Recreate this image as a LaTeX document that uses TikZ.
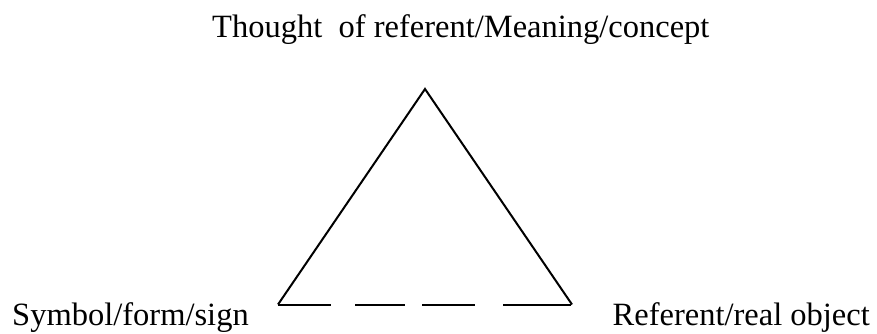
\documentclass[tikz,border=0pt]{standalone}
\usepackage{fontspec}
\setmainfont{Liberation Serif}
\begin{document}
\begin{tikzpicture}[x=1pt,y=-1pt,
  lbl/.style={inner sep=0pt,font=\fontsize{32.5}{36}\selectfont},
  side/.style={line width=2pt,line join=miter},
  base/.style={line width=2pt,dash pattern=on 53pt off 24pt on 50pt off 17pt on 53pt off 28pt on 68pt off 10pt}]
\useasboundingbox (0,0) rectangle (877,334);
\coordinate (A) at (425,89);
\coordinate (L) at (278,304.5);
\coordinate (R) at (572,304.5);
\draw[side] (L) -- (A) -- (R);
\draw[base] (L) -- (R);
\node[lbl,anchor=base west] (top) at (212,38) {Thought\ \ of referent/Meaning/concept};
\node[lbl,anchor=base west] (sym) at (12,325) {Symbol/form/sign};
\node[lbl,anchor=base east] (ref) at (870,325) {Referent/real object};
\end{tikzpicture}
\end{document}
